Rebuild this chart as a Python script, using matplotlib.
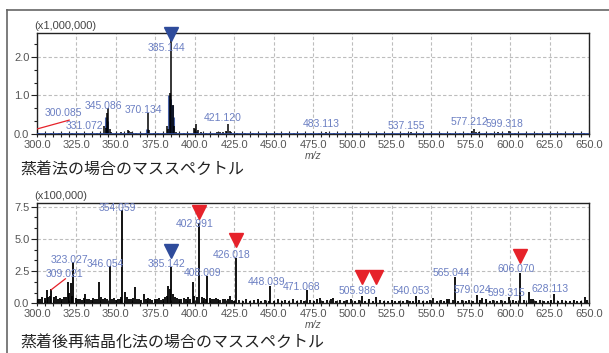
import matplotlib
matplotlib.use("Agg")
import matplotlib.pyplot as plt
from matplotlib.ticker import MultipleLocator, AutoMinorLocator, FormatStrFormatter
from matplotlib.lines import Line2D

plt.rcParams['font.family'] = ['Liberation Sans Narrow', 'Liberation Sans', 'DejaVu Sans']

# ---------------- data: top panel (x1,000,000) ----------------
top_mz = [300.085, 301.5, 305, 309, 314, 318, 322, 326, 331.072, 334, 338, 340,
          342.5, 343.5, 344.2, 345.086, 346.1, 347.1, 350, 353, 355, 357.5, 358.5,
          359.5, 361, 363, 366, 369, 370.134, 371.1, 374, 377, 380, 382.5, 383.1,
          384.1, 385.144, 386.1, 387.1, 388.1, 390, 393, 396, 399.5, 400.2, 401.1,
          402.2, 404, 407, 410, 414, 416, 418, 420, 421.120, 422.1, 423, 427, 432,
          437, 441, 446, 452, 458, 463, 469, 474, 479, 483.113, 488, 495, 502, 510,
          517, 525, 533, 535.5, 537.155, 542, 549, 556, 562, 568, 573, 575.5,
          577.212, 578.2, 580, 584, 588, 592, 595, 599.318, 603, 610, 617, 625, 632,
          640, 647]
top_int = [0.12, 0.02, 0.02, 0.015, 0.03, 0.02, 0.015, 0.02, 0.03, 0.02, 0.02, 0.03,
           0.2, 0.15, 0.55, 0.67, 0.12, 0.05, 0.02, 0.04, 0.02, 0.1, 0.08,
           0.06, 0.03, 0.02, 0.02, 0.03, 0.54, 0.1, 0.02, 0.02, 0.03, 0.22, 0.12,
           1.06, 2.44, 0.75, 0.2, 0.06, 0.02, 0.02, 0.03, 0.15, 0.12, 0.25,
           0.1, 0.04, 0.02, 0.02, 0.04, 0.06, 0.05, 0.07, 0.26, 0.08, 0.04, 0.02, 0.02,
           0.03, 0.02, 0.02, 0.02, 0.02, 0.02, 0.02, 0.02, 0.02, 0.05, 0.02, 0.02, 0.02, 0.02,
           0.02, 0.02, 0.02, 0.03, 0.04, 0.02, 0.02, 0.02, 0.02, 0.02, 0.03, 0.08,
           0.12, 0.06, 0.04, 0.03, 0.02, 0.04, 0.03, 0.08, 0.02, 0.02, 0.02, 0.02, 0.02,
           0.02, 0.02]
top_profile_mz = [344.0, 344.6, 370.0, 384.0, 384.6, 385.6, 386.4, 401.0]
top_profile_int = [0.45, 0.35, 0.12, 1.0, 0.9, 0.75, 0.45, 0.08]

top_labels = ["300.085", "331.072", "345.086", "370.134", "385.144", "421.120",
              "483.113", "537.155", "577.212", "599.318"]
top_label_x = [317.0, 329.8, 341.9, 367.2, 382.4, 418.0, 480.1, 534.4, 574.3, 596.5]
top_label_y = [0.55, 0.21, 0.73, 0.62, 2.23, 0.41, 0.26, 0.21, 0.31, 0.26]
top_blue_markers_x = [385.144]
top_blue_markers_y = [2.6]

# ---------------- data: bottom panel (x100,000) ----------------
bot_mz = [306.1, 309.021, 319.4, 321.3, 323.027, 330.4, 339.3, 346.054, 354.059,
          355.8, 362.2, 367.8, 383.3, 384.3, 385.142, 398.7, 402.991, 408.009, 422.4,
          426.018, 448.039, 471.068, 479.4, 487.8, 505.986, 515.0, 540.053, 551.0,
          559.7, 565.044, 579.024, 582.0, 599.315, 606.070, 611.7, 614.6, 628.113,
          647.4]
bot_int = [1.0, 1.1, 1.63, 1.55, 3.23, 0.7, 1.63, 2.9, 7.24,
           0.9, 1.29, 0.7, 1.34, 1.1, 2.79, 1.63, 6.21, 2.12, 0.6,
           3.49, 1.34, 1.03, 0.4, 0.4, 0.57, 0.5, 0.57, 0.4,
           0.3, 2.07, 0.64, 0.4, 0.5, 2.33, 0.9, 0.3, 0.70,
           0.5]
noise_mz = [300.6, 302.1, 303.4, 304.8, 307.2, 308.3, 310.5, 311.8, 313.0, 314.4,
            315.7, 317.1, 318.2, 320.3, 322.2, 324.5, 325.8, 327.1, 328.6, 329.5,
            331.7, 333.0, 334.4, 335.6, 337.0, 338.2, 340.5, 341.8, 343.1, 344.6,
            347.4, 348.7, 350.1, 351.4, 352.6, 353.3, 357.0, 358.4, 359.7, 361.0,
            363.4, 364.7, 366.1, 369.2, 370.5, 371.9, 373.2, 374.6, 375.9, 377.3,
            378.6, 380.0, 381.3, 382.4, 386.3, 387.5, 388.9, 390.2, 391.6, 393.0,
            394.3, 395.7, 397.1, 399.8, 401.2, 404.4, 405.7, 407.1, 409.5, 410.8,
            412.2, 413.6, 415.0, 416.3, 417.7, 419.0,
            420.8, 423.5, 425.0, 428.0, 430.4, 432.7, 435.1, 437.6, 440.0, 442.3,
            444.8, 447.0, 450.4, 452.8, 455.1, 457.5, 460.0, 462.4, 464.7, 467.1,
            469.5, 473.0, 475.5, 477.8, 481.5, 484.0, 486.2, 489.6, 492.0, 494.4,
            496.8, 499.2, 501.6, 504.0, 508.0, 510.4, 512.8, 517.5, 520.0, 522.4,
            524.8, 527.2, 529.6, 532.0, 534.4, 536.8, 538.5, 542.5, 545.0, 547.4,
            549.0, 553.5, 556.0, 558.2, 561.5, 563.5, 567.0, 569.4, 571.8, 574.2,
            576.6, 581.0, 584.5, 587.0, 589.4, 591.8, 594.2, 596.6, 601.5, 603.8,
            608.5, 613.0, 616.5, 619.0, 621.4, 623.8, 626.2, 630.5, 633.0, 635.4,
            637.8, 640.2, 642.6, 645.0, 649.0]
noise_int = [0.35, 0.30, 0.45, 0.40, 0.50, 0.60, 0.45, 0.55, 0.30, 0.40,
             0.35, 0.50, 0.45, 0.80, 0.60, 0.40, 0.30, 0.35, 0.25, 0.40,
             0.30, 0.35, 0.25, 0.40, 0.30, 0.35, 0.45, 0.30, 0.40, 0.35,
             0.30, 0.40, 0.25, 0.35, 0.30, 0.50, 0.45, 0.35, 0.30, 0.40,
             0.35, 0.30, 0.25, 0.35, 0.40, 0.30, 0.25, 0.35, 0.30, 0.40,
             0.25, 0.30, 0.45, 0.60, 0.70, 0.50, 0.40, 0.35, 0.30, 0.40,
             0.35, 0.45, 0.30, 0.55, 0.50, 0.45, 0.40, 0.35, 0.40, 0.30,
             0.35, 0.40, 0.30, 0.25, 0.30, 0.35,
             0.30, 0.25, 0.20, 0.25, 0.20, 0.30, 0.20, 0.25, 0.30, 0.20,
             0.25, 0.20, 0.20, 0.30, 0.20, 0.25, 0.20, 0.30, 0.20, 0.25,
             0.20, 0.25, 0.20, 0.30, 0.20, 0.25, 0.30, 0.20, 0.25, 0.20,
             0.25, 0.30, 0.20, 0.25, 0.20, 0.30, 0.20, 0.25, 0.20, 0.20,
             0.25, 0.20, 0.15, 0.20, 0.25, 0.20, 0.20, 0.25, 0.20, 0.20,
             0.25, 0.20, 0.25, 0.20, 0.30, 0.25, 0.20, 0.25, 0.20, 0.25,
             0.20, 0.25, 0.30, 0.20, 0.25, 0.20, 0.25, 0.20, 0.25, 0.20,
             0.25, 0.30, 0.20, 0.25, 0.20, 0.20, 0.25, 0.20, 0.25, 0.20,
             0.20, 0.25, 0.20, 0.20, 0.25]

bot_labels = ["309.021", "323.027", "346.054", "354.059", "385.142", "402.991",
              "408.009", "426.018", "448.039", "471.068", "505.986", "540.053",
              "565.044", "579.024", "599.315", "606.070", "628.113"]
bot_label_x = [317.4, 320.3, 343.1, 351.2, 382.2, 400.2, 405.1, 423.6, 445.4, 468.0,
               503.2, 537.4, 562.9, 575.8, 597.8, 603.6, 625.3]
bot_label_y = [2.25, 3.36, 3.03, 7.38, 3.03, 6.16, 2.33, 3.75, 1.68, 1.29,
               0.95, 0.95, 2.38, 1.03, 0.78, 2.64, 1.11]
bot_blue_markers_x = [385.142]
bot_blue_markers_y = [4.08]
bot_red_markers_x = [402.991, 426.018, 505.986, 515.0, 606.070]
bot_red_markers_y = [7.1, 4.9, 2.02, 2.02, 3.67]

x_ticks = [300.0, 325.0, 350.0, 375.0, 400.0, 425.0, 450.0, 475.0, 500.0, 525.0,
           550.0, 575.0, 600.0, 625.0, 650.0]
titles = ["蒸着法の場合のマススペクトル", "蒸着後再結晶化法の場合のマススペクトル"]
multipliers = ["(x1,000,000)", "(x100,000)"]

# ---------------- style ----------------
LABEL_C = "#6b7fc2"
BLUE = "#2e4b9b"
RED = "#e6222a"
TICK_C = "#555555"
W, H = 609, 353
FS_TICK = 8.0
FS_LAB = 7.5

fig = plt.figure(figsize=(W / 100, H / 100), dpi=100)

# outer frame lines
fig.add_artist(Line2D([7 / W, 1.0], [1 - 10 / H, 1 - 10 / H], color="#666666", lw=1.2))
fig.add_artist(Line2D([7 / W, 7 / W], [0, 1 - 10 / H], color="#666666", lw=1.2))


def setup(ax, ymax, ymajor):
    ax.set_xlim(300, 650)
    ax.set_ylim(0, ymax)
    ax.set_xticks(x_ticks)
    ax.xaxis.set_major_formatter(FormatStrFormatter("%.1f"))
    ax.xaxis.set_minor_locator(MultipleLocator(5))
    ax.yaxis.set_major_locator(MultipleLocator(ymajor))
    ax.yaxis.set_minor_locator(AutoMinorLocator(3))
    ax.yaxis.set_major_formatter(FormatStrFormatter("%.1f"))
    ax.grid(True, which="major", color="#bdbdbd", ls=(0, (3, 2)), lw=0.8)
    ax.set_axisbelow(True)
    ax.tick_params(axis="both", which="both", labelsize=FS_TICK, labelcolor=TICK_C,
                   color="#222222", width=0.8, pad=1.5)
    ax.tick_params(axis="x", which="major", direction="inout", length=5)
    ax.tick_params(axis="x", which="minor", direction="inout", length=4)
    ax.tick_params(axis="y", which="major", direction="out", length=4)
    ax.tick_params(axis="y", which="minor", direction="out", length=2.5)
    for s in ax.spines.values():
        s.set_color("#222222")
        s.set_linewidth(1.0)


# ---- top ----
ax1 = fig.add_axes([37 / W, 1 - 134 / H, 552 / W, 101 / H])
setup(ax1, 2.62, 1.0)
ax1.vlines(top_profile_mz, 0, top_profile_int, color=BLUE, lw=2.2, alpha=0.85, zorder=2)
ax1.vlines(top_mz, 0, top_int, color="black", lw=1.1, zorder=3)
ax1.axhline(0, color=BLUE, lw=2.0, zorder=4)
for t, x, y in zip(top_labels, top_label_x, top_label_y):
    ax1.text(x, y, t, color=LABEL_C, fontsize=FS_LAB, ha="center", va="center", zorder=5)
ax1.plot([300.0, 320.4], [0.13, 0.36], color=RED, lw=0.9, zorder=5)
ax1.plot(top_blue_markers_x, top_blue_markers_y, marker="v", ls="none", ms=10,
         color=BLUE, clip_on=False, zorder=6)
ax1.text(-0.005, 1.02, multipliers[0], transform=ax1.transAxes, fontsize=FS_TICK,
         color="#444444", ha="left", va="bottom")
ax1.text(0.5, -0.17, "m/z", transform=ax1.transAxes, fontsize=7.5, style="italic",
         color=TICK_C, ha="center", va="top")
fig.text(20 / W, 1 - 170 / H, titles[0], family=["Noto Sans CJK JP", "DejaVu Sans"],
         fontsize=11.5, color="#222222", ha="left", va="center")

# ---- bottom ----
ax2 = fig.add_axes([37 / W, 1 - 303.3 / H, 552 / W, 100.6 / H])
setup(ax2, 7.8, 2.5)
ax2.vlines(noise_mz, 0, noise_int, color="black", lw=1.3, zorder=3)
ax2.vlines(bot_mz, 0, bot_int, color="black", lw=1.3, zorder=3)
for t, x, y in zip(bot_labels, bot_label_x, bot_label_y):
    ax2.text(x, y, t, color=LABEL_C, fontsize=FS_LAB, ha="center", va="center", zorder=5)
ax2.plot([309.0, 318.0], [1.05, 1.9], color=RED, lw=0.9, zorder=5)
ax2.plot(bot_blue_markers_x, bot_blue_markers_y, marker="v", ls="none", ms=10,
         color=BLUE, zorder=6)
ax2.plot(bot_red_markers_x, bot_red_markers_y, marker="v", ls="none", ms=10,
         color=RED, zorder=6)
ax2.text(-0.005, 1.02, multipliers[1], transform=ax2.transAxes, fontsize=FS_TICK,
         color="#444444", ha="left", va="bottom")
ax2.text(0.5, -0.17, "m/z", transform=ax2.transAxes, fontsize=7.5, style="italic",
         color=TICK_C, ha="center", va="top")
fig.text(20 / W, 1 - 343 / H, titles[1], family=["Noto Sans CJK JP", "DejaVu Sans"],
         fontsize=11.5, color="#222222", ha="left", va="center")

fig.savefig("out.png", dpi=100)
